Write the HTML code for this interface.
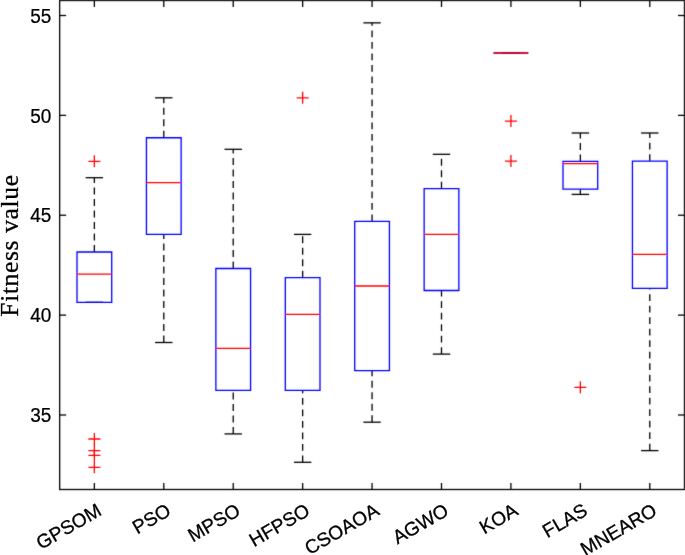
<!DOCTYPE html>
<html><head><meta charset="utf-8"><style>
html,body{margin:0;padding:0;background:#fff;}
svg{display:block;will-change:transform;font-family:"Liberation Sans",sans-serif;}
</style></head><body>
<svg width="685" height="555" viewBox="0 0 685 555">
<defs><filter id="b" filterUnits="userSpaceOnUse" x="0" y="0" width="685" height="555"><feConvolveMatrix order="3" kernelMatrix="0.01145 0.0841 0.01145 0.0841 0.6178 0.0841 0.01145 0.0841 0.01145" edgeMode="none"/></filter></defs>
<rect width="685" height="555" fill="#fff"/>
<g filter="url(#b)">
<line x1="94.36" y1="252.0" x2="94.36" y2="177.7" stroke="#000" stroke-width="1.3" stroke-dasharray="6.9 4.6"/>
<line x1="85.66" y1="177.7" x2="103.06" y2="177.7" stroke="#000" stroke-width="1.3"/>
<line x1="85.66" y1="302.3" x2="103.06" y2="302.3" stroke="#000" stroke-width="1.3"/>
<line x1="163.79" y1="137.75" x2="163.79" y2="97.8" stroke="#000" stroke-width="1.3" stroke-dasharray="6.9 4.6"/>
<line x1="163.79" y1="342.5" x2="163.79" y2="234.4" stroke="#000" stroke-width="1.3" stroke-dasharray="6.9 4.6"/>
<line x1="155.09" y1="97.8" x2="172.49" y2="97.8" stroke="#000" stroke-width="1.3"/>
<line x1="155.09" y1="342.5" x2="172.49" y2="342.5" stroke="#000" stroke-width="1.3"/>
<line x1="233.22" y1="268.5" x2="233.22" y2="149.3" stroke="#000" stroke-width="1.3" stroke-dasharray="6.9 4.6"/>
<line x1="233.22" y1="433.9" x2="233.22" y2="390.3" stroke="#000" stroke-width="1.3" stroke-dasharray="6.9 4.6"/>
<line x1="224.52" y1="149.3" x2="241.92" y2="149.3" stroke="#000" stroke-width="1.3"/>
<line x1="224.52" y1="433.9" x2="241.92" y2="433.9" stroke="#000" stroke-width="1.3"/>
<line x1="302.65" y1="277.7" x2="302.65" y2="234.4" stroke="#000" stroke-width="1.3" stroke-dasharray="6.9 4.6"/>
<line x1="302.65" y1="462.3" x2="302.65" y2="390.4" stroke="#000" stroke-width="1.3" stroke-dasharray="6.9 4.6"/>
<line x1="293.95" y1="234.4" x2="311.35" y2="234.4" stroke="#000" stroke-width="1.3"/>
<line x1="293.95" y1="462.3" x2="311.35" y2="462.3" stroke="#000" stroke-width="1.3"/>
<line x1="372.07" y1="221.3" x2="372.07" y2="22.85" stroke="#000" stroke-width="1.3" stroke-dasharray="6.9 4.6"/>
<line x1="372.07" y1="422.2" x2="372.07" y2="370.7" stroke="#000" stroke-width="1.3" stroke-dasharray="6.9 4.6"/>
<line x1="363.38" y1="22.85" x2="380.77" y2="22.85" stroke="#000" stroke-width="1.3"/>
<line x1="363.38" y1="422.2" x2="380.77" y2="422.2" stroke="#000" stroke-width="1.3"/>
<line x1="441.50" y1="188.7" x2="441.50" y2="154.3" stroke="#000" stroke-width="1.3" stroke-dasharray="6.9 4.6"/>
<line x1="441.50" y1="354.1" x2="441.50" y2="290.5" stroke="#000" stroke-width="1.3" stroke-dasharray="6.9 4.6"/>
<line x1="432.80" y1="154.3" x2="450.20" y2="154.3" stroke="#000" stroke-width="1.3"/>
<line x1="432.80" y1="354.1" x2="450.20" y2="354.1" stroke="#000" stroke-width="1.3"/>
<line x1="502.23" y1="53.0" x2="519.63" y2="53.0" stroke="#000" stroke-width="1.3"/>
<line x1="502.23" y1="53.0" x2="519.63" y2="53.0" stroke="#000" stroke-width="1.3"/>
<line x1="580.36" y1="161.45" x2="580.36" y2="133.0" stroke="#000" stroke-width="1.3" stroke-dasharray="6.9 4.6"/>
<line x1="580.36" y1="194.4" x2="580.36" y2="189.1" stroke="#000" stroke-width="1.3" stroke-dasharray="6.9 4.6"/>
<line x1="571.66" y1="133.0" x2="589.06" y2="133.0" stroke="#000" stroke-width="1.3"/>
<line x1="571.66" y1="194.4" x2="589.06" y2="194.4" stroke="#000" stroke-width="1.3"/>
<line x1="649.79" y1="161.1" x2="649.79" y2="133.0" stroke="#000" stroke-width="1.3" stroke-dasharray="6.9 4.6"/>
<line x1="649.79" y1="450.6" x2="649.79" y2="288.4" stroke="#000" stroke-width="1.3" stroke-dasharray="6.9 4.6"/>
<line x1="641.09" y1="133.0" x2="658.49" y2="133.0" stroke="#000" stroke-width="1.3"/>
<line x1="641.09" y1="450.6" x2="658.49" y2="450.6" stroke="#000" stroke-width="1.3"/>
<path d="M77.01 252.0H111.71V302.3H77.01Z" fill="none" stroke="#00f" stroke-width="1.3"/>
<path d="M146.44 137.75H181.14V234.4H146.44Z" fill="none" stroke="#00f" stroke-width="1.3"/>
<path d="M215.87 268.5H250.57V390.3H215.87Z" fill="none" stroke="#00f" stroke-width="1.3"/>
<path d="M285.30 277.7H320.00V390.4H285.30Z" fill="none" stroke="#00f" stroke-width="1.3"/>
<path d="M354.72 221.3H389.43V370.7H354.72Z" fill="none" stroke="#00f" stroke-width="1.3"/>
<path d="M424.15 188.7H458.85V290.5H424.15Z" fill="none" stroke="#00f" stroke-width="1.3"/>
<path d="M493.58 53.0H528.28V53.0H493.58Z" fill="none" stroke="#00f" stroke-width="1.3"/>
<path d="M563.01 161.45H597.71V189.1H563.01Z" fill="none" stroke="#00f" stroke-width="1.3"/>
<path d="M632.44 161.1H667.14V288.4H632.44Z" fill="none" stroke="#00f" stroke-width="1.3"/>
<line x1="77.01" y1="274.2" x2="111.71" y2="274.2" stroke="#f00" stroke-width="1.3"/>
<path d="M88.36 161.3H100.36M94.36 155.3V167.3" stroke="#f00" stroke-width="1.3" fill="none"/>
<path d="M88.36 439.0H100.36M94.36 433.0V445.0" stroke="#f00" stroke-width="1.3" fill="none"/>
<path d="M88.36 450.6H100.36M94.36 444.6V456.6" stroke="#f00" stroke-width="1.3" fill="none"/>
<path d="M88.36 455.4H100.36M94.36 449.4V461.4" stroke="#f00" stroke-width="1.3" fill="none"/>
<path d="M88.36 467.3H100.36M94.36 461.3V473.3" stroke="#f00" stroke-width="1.3" fill="none"/>
<line x1="146.44" y1="182.65" x2="181.14" y2="182.65" stroke="#f00" stroke-width="1.3"/>
<line x1="215.87" y1="348.4" x2="250.57" y2="348.4" stroke="#f00" stroke-width="1.3"/>
<line x1="285.30" y1="314.3" x2="320.00" y2="314.3" stroke="#f00" stroke-width="1.3"/>
<path d="M296.65 97.8H308.65M302.65 91.8V103.8" stroke="#f00" stroke-width="1.3" fill="none"/>
<line x1="354.72" y1="286.0" x2="389.43" y2="286.0" stroke="#f00" stroke-width="1.3"/>
<line x1="424.15" y1="234.3" x2="458.85" y2="234.3" stroke="#f00" stroke-width="1.3"/>
<line x1="493.58" y1="53.0" x2="528.28" y2="53.0" stroke="#f00" stroke-width="1.3"/>
<path d="M504.93 121.1H516.93M510.93 115.1V127.1" stroke="#f00" stroke-width="1.3" fill="none"/>
<path d="M504.93 161.1H516.93M510.93 155.1V167.1" stroke="#f00" stroke-width="1.3" fill="none"/>
<line x1="563.01" y1="163.6" x2="597.71" y2="163.6" stroke="#f00" stroke-width="1.3"/>
<path d="M574.36 387.3H586.36M580.36 381.3V393.3" stroke="#f00" stroke-width="1.3" fill="none"/>
<line x1="632.44" y1="254.3" x2="667.14" y2="254.3" stroke="#f00" stroke-width="1.3"/>
<rect x="59.65" y="0.5" width="624.85" height="489.0" fill="none" stroke="#000" stroke-width="1.3"/>
<line x1="94.36" y1="489.5" x2="94.36" y2="483.0" stroke="#000" stroke-width="1.3"/>
<line x1="94.36" y1="0.5" x2="94.36" y2="7.0" stroke="#000" stroke-width="1.3"/>
<line x1="163.79" y1="489.5" x2="163.79" y2="483.0" stroke="#000" stroke-width="1.3"/>
<line x1="163.79" y1="0.5" x2="163.79" y2="7.0" stroke="#000" stroke-width="1.3"/>
<line x1="233.22" y1="489.5" x2="233.22" y2="483.0" stroke="#000" stroke-width="1.3"/>
<line x1="233.22" y1="0.5" x2="233.22" y2="7.0" stroke="#000" stroke-width="1.3"/>
<line x1="302.65" y1="489.5" x2="302.65" y2="483.0" stroke="#000" stroke-width="1.3"/>
<line x1="302.65" y1="0.5" x2="302.65" y2="7.0" stroke="#000" stroke-width="1.3"/>
<line x1="372.07" y1="489.5" x2="372.07" y2="483.0" stroke="#000" stroke-width="1.3"/>
<line x1="372.07" y1="0.5" x2="372.07" y2="7.0" stroke="#000" stroke-width="1.3"/>
<line x1="441.50" y1="489.5" x2="441.50" y2="483.0" stroke="#000" stroke-width="1.3"/>
<line x1="441.50" y1="0.5" x2="441.50" y2="7.0" stroke="#000" stroke-width="1.3"/>
<line x1="510.93" y1="489.5" x2="510.93" y2="483.0" stroke="#000" stroke-width="1.3"/>
<line x1="510.93" y1="0.5" x2="510.93" y2="7.0" stroke="#000" stroke-width="1.3"/>
<line x1="580.36" y1="489.5" x2="580.36" y2="483.0" stroke="#000" stroke-width="1.3"/>
<line x1="580.36" y1="0.5" x2="580.36" y2="7.0" stroke="#000" stroke-width="1.3"/>
<line x1="649.79" y1="489.5" x2="649.79" y2="483.0" stroke="#000" stroke-width="1.3"/>
<line x1="649.79" y1="0.5" x2="649.79" y2="7.0" stroke="#000" stroke-width="1.3"/>
<line x1="59.65" y1="415.00" x2="66.15" y2="415.00" stroke="#000" stroke-width="1.3"/>
<line x1="684.5" y1="415.00" x2="678.0" y2="415.00" stroke="#000" stroke-width="1.3"/>
<line x1="59.65" y1="315.12" x2="66.15" y2="315.12" stroke="#000" stroke-width="1.3"/>
<line x1="684.5" y1="315.12" x2="678.0" y2="315.12" stroke="#000" stroke-width="1.3"/>
<line x1="59.65" y1="215.25" x2="66.15" y2="215.25" stroke="#000" stroke-width="1.3"/>
<line x1="684.5" y1="215.25" x2="678.0" y2="215.25" stroke="#000" stroke-width="1.3"/>
<line x1="59.65" y1="115.38" x2="66.15" y2="115.38" stroke="#000" stroke-width="1.3"/>
<line x1="684.5" y1="115.38" x2="678.0" y2="115.38" stroke="#000" stroke-width="1.3"/>
<line x1="59.65" y1="15.50" x2="66.15" y2="15.50" stroke="#000" stroke-width="1.3"/>
<line x1="684.5" y1="15.50" x2="678.0" y2="15.50" stroke="#000" stroke-width="1.3"/>
</g>
<text x="0" y="0" text-anchor="end" font-size="19" stroke="#000" stroke-width="0.22" transform="translate(51.3 422.20) scale(1 1.045)">35</text>
<text x="0" y="0" text-anchor="end" font-size="19" stroke="#000" stroke-width="0.22" transform="translate(51.3 322.32) scale(1 1.045)">40</text>
<text x="0" y="0" text-anchor="end" font-size="19" stroke="#000" stroke-width="0.22" transform="translate(51.3 222.45) scale(1 1.045)">45</text>
<text x="0" y="0" text-anchor="end" font-size="19" stroke="#000" stroke-width="0.22" transform="translate(51.3 122.58) scale(1 1.045)">50</text>
<text x="0" y="0" text-anchor="end" font-size="19" stroke="#000" stroke-width="0.22" transform="translate(51.3 22.70) scale(1 1.045)">55</text>
<text x="0" y="0" text-anchor="end" font-size="19.2" stroke="#000" stroke-width="0.3" transform="translate(102.86 514.20) rotate(-30)">GPSOM</text>
<text x="0" y="0" text-anchor="end" font-size="19.2" stroke="#000" stroke-width="0.3" transform="translate(172.29 514.20) rotate(-30)">PSO</text>
<text x="0" y="0" text-anchor="end" font-size="19.2" stroke="#000" stroke-width="0.3" transform="translate(241.72 514.20) rotate(-30)">MPSO</text>
<text x="0" y="0" text-anchor="end" font-size="19.2" stroke="#000" stroke-width="0.3" transform="translate(311.15 514.20) rotate(-30)">HFPSO</text>
<text x="0" y="0" text-anchor="end" font-size="19.2" stroke="#000" stroke-width="0.3" transform="translate(380.57 514.20) rotate(-30)">CSOAOA</text>
<text x="0" y="0" text-anchor="end" font-size="19.2" stroke="#000" stroke-width="0.3" transform="translate(450.00 514.20) rotate(-30)">AGWO</text>
<text x="0" y="0" text-anchor="end" font-size="19.2" stroke="#000" stroke-width="0.3" transform="translate(519.43 514.20) rotate(-30)">KOA</text>
<text x="0" y="0" text-anchor="end" font-size="19.2" stroke="#000" stroke-width="0.3" transform="translate(588.86 514.20) rotate(-30)">FLAS</text>
<text x="0" y="0" text-anchor="end" font-size="19.2" stroke="#000" stroke-width="0.3" transform="translate(658.29 514.20) rotate(-30)">MNEARO</text>
<text x="0" y="0" text-anchor="middle" style="font-family:&quot;Liberation Serif&quot;,serif" font-size="25.6" letter-spacing="0.62" stroke="#000" stroke-width="0.3" transform="translate(17.9 245.5) rotate(-90)">Fitness value</text>
</svg>
</body></html>
